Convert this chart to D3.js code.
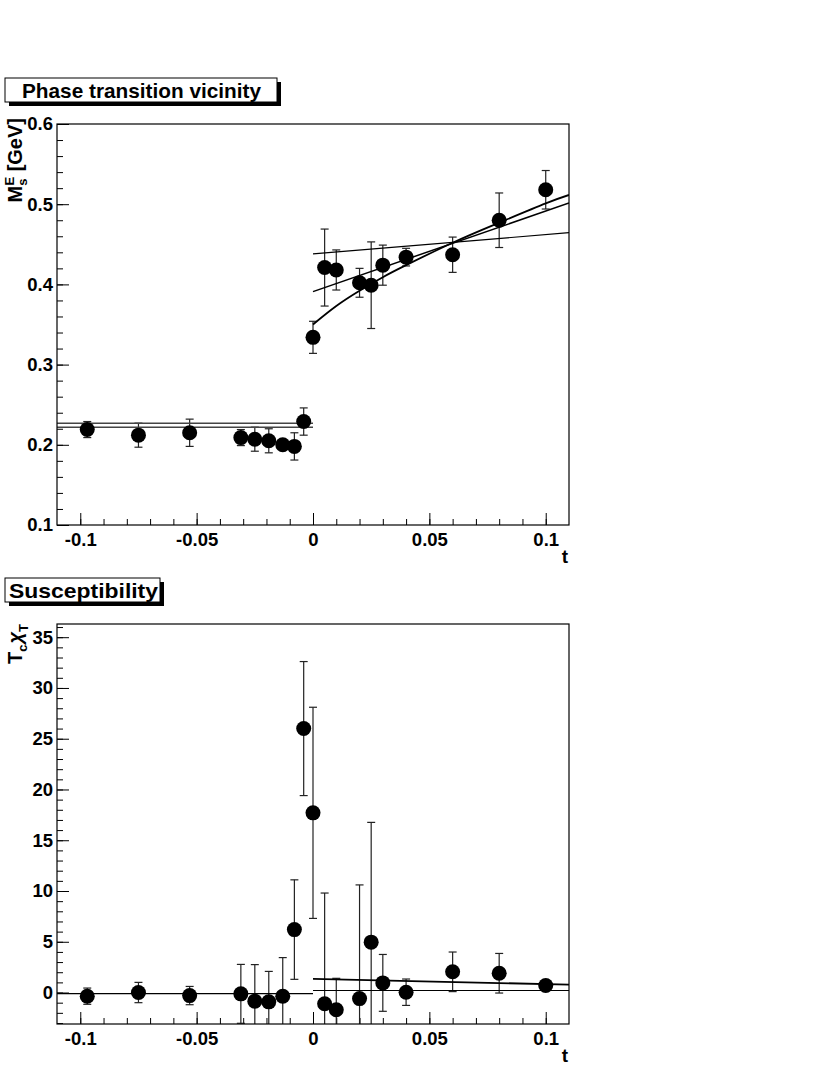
<!DOCTYPE html>
<html>
<head>
<meta charset="utf-8">
<script src="https://cdn.jsdelivr.net/npm/d3@7"></script>
<style>
  body { margin: 0; background: #fff; }
  text { font-family: "Liberation Sans", Arial, Helvetica, sans-serif; font-weight: bold; fill: #000; }
</style>
</head>
<body>
<svg id="chart" width="830" height="1075"></svg>
<script>
// reduced temperature t for every point (same for both panels)
var T_POINTS = [-0.097, -0.075, -0.053, -0.031, -0.025, -0.019, -0.013, -0.008, -0.004,
                0.0, 0.005, 0.010, 0.020, 0.025, 0.030, 0.040, 0.060, 0.080, 0.100];

// top panel: screening mass M_s^E [GeV]
var MASS     = [0.219, 0.212, 0.215, 0.209, 0.207, 0.205, 0.200, 0.198, 0.229,
                0.334, 0.421, 0.418, 0.402, 0.399, 0.424, 0.434, 0.437, 0.480, 0.518];
var MASS_ERR = [0.010, 0.015, 0.017, 0.010, 0.015, 0.015, 0.004, 0.017, 0.017,
                0.020, 0.048, 0.025, 0.018, 0.054, 0.025, 0.011, 0.022, 0.034, 0.024];

// fits drawn over the top panel as [t, value]
var MASS_CONST_A = [[-0.11, 0.2268], [0.0, 0.2268]];
var MASS_CONST_B = [[-0.11, 0.2218], [0.0, 0.2218]];
var MASS_FLAT    = [[0.0, 0.438], [0.11, 0.4645]];
var MASS_LINE    = [[0.0, 0.391], [0.11, 0.5015]];
var MASS_CURVE   = [[0.0, 0.350], [0.01, 0.373], [0.02, 0.392], [0.03, 0.409], [0.04, 0.424],
                    [0.06, 0.452], [0.08, 0.477], [0.10, 0.501], [0.11, 0.5115]];

// bottom panel: susceptibility T_c chi_T
var CHI     = [-0.36, 0.0, -0.3, -0.13, -0.85, -0.92, -0.36, 6.2, 26.0,
               17.7, -1.1, -1.7, -0.6, 4.96, 0.95, 0.03, 2.04, 1.9, 0.69];
var CHI_ERR = [0.8, 1.0, 0.9, 2.9, 3.6, 3.0, 3.8, 4.9, 6.6,
               10.4, 10.9, 3.1, 11.2, 11.8, 2.8, 1.3, 1.95, 1.95, 0.3];

var CHI_LEFT   = [[-0.11, -0.1], [0.0, -0.1]];
var CHI_SLOPE  = [[0.0, 1.35], [0.11, 0.78]];
var CHI_FLAT   = [[0.0, 0.2], [0.11, 0.2]];

// axes
var T_RANGE      = [-0.11, 0.11];
var T_MAJOR      = [-0.1, -0.05, 0, 0.05, 0.1];
var MASS_RANGE   = [0.1, 0.6];
var MASS_MAJOR   = [0.1, 0.2, 0.3, 0.4, 0.5, 0.6];
var CHI_RANGE    = [-3.1, 36.3];
var CHI_MAJOR    = [0, 5, 10, 15, 20, 25, 30, 35];

var LEFT = 57, RIGHT = 569;
var svg = d3.select('#chart');

var x = d3.scaleLinear().domain(T_RANGE).range([LEFT, RIGHT]);

function fmt(d) { return String(+d.toFixed(2)); }

function titleBox(bx, by, bw, bh, label, tx, ty, tlen) {
  svg.append('rect').attr('x', bx + 4).attr('y', by + 4).attr('width', bw).attr('height', bh)
    .attr('fill', '#000');
  svg.append('rect').attr('x', bx).attr('y', by).attr('width', bw).attr('height', bh)
    .attr('fill', '#fff').attr('stroke', '#000').attr('stroke-width', 1);
  svg.append('text').attr('x', tx).attr('y', ty)
    .style('font-size', '21px')
    .attr('textLength', tlen).attr('lengthAdjust', 'spacingAndGlyphs')
    .text(label);
}

function panel(top, bottom, yDomain, yMajor, yMinorStep, vals, errs, lines, id) {
  var y = d3.scaleLinear().domain(yDomain).range([bottom, top]);
  var g = svg.append('g');

  g.append('clipPath').attr('id', id).append('rect')
    .attr('x', LEFT).attr('y', top).attr('width', RIGHT - LEFT).attr('height', bottom - top);

  // minor + major ticks, inward like ROOT
  var xMinor = d3.range(-0.1, 0.1001, 0.01);
  var yMinor = d3.range(Math.ceil(yDomain[0] / yMinorStep) * yMinorStep, yDomain[1], yMinorStep);

  g.append('g').attr('transform', 'translate(0,' + bottom + ')')
    .call(d3.axisBottom(x).tickValues(xMinor).tickSize(-6).tickFormat(''));
  g.append('g').attr('transform', 'translate(0,' + bottom + ')')
    .call(d3.axisBottom(x).tickValues(T_MAJOR).tickSize(-12).tickPadding(8).tickFormat(fmt));
  g.append('g').attr('transform', 'translate(' + LEFT + ',0)')
    .call(d3.axisLeft(y).tickValues(yMinor).tickSize(-6).tickFormat(''));
  g.append('g').attr('transform', 'translate(' + LEFT + ',0)')
    .call(d3.axisLeft(y).tickValues(yMajor).tickSize(-12).tickPadding(4).tickFormat(fmt));

  g.selectAll('.domain').remove();
  g.selectAll('.tick line').attr('stroke', '#000').attr('stroke-width', 1);
  g.selectAll('.tick text').style('font-size', '18.5px').style('font-family', null);

  var plot = g.append('g').attr('clip-path', 'url(#' + id + ')');

  // error bars with caps
  var eb = plot.selectAll('.eb').data(T_POINTS).enter().append('g');
  eb.append('line')
    .attr('x1', d => x(d)).attr('x2', d => x(d))
    .attr('y1', (d, i) => y(vals[i] - errs[i])).attr('y2', (d, i) => y(vals[i] + errs[i]))
    .attr('stroke', '#222').attr('stroke-width', 1.2);
  [-1, 1].forEach(function (s) {
    eb.append('line')
      .attr('x1', d => x(d) - 4).attr('x2', d => x(d) + 4)
      .attr('y1', (d, i) => y(vals[i] + s * errs[i])).attr('y2', (d, i) => y(vals[i] + s * errs[i]))
      .attr('stroke', '#222').attr('stroke-width', 1.2);
  });

  // fit lines
  lines.forEach(function (l) {
    plot.append('path').datum(l.pts)
      .attr('fill', 'none').attr('stroke', l.color).attr('stroke-width', l.w)
      .attr('d', d3.line().x(d => x(d[0])).y(d => y(d[1])).curve(d3.curveNatural));
  });

  plot.selectAll('.pt').data(T_POINTS).enter().append('circle')
    .attr('cx', d => x(d)).attr('cy', (d, i) => y(vals[i]))
    .attr('r', 7.5).attr('fill', '#000');

  g.append('rect').attr('x', LEFT).attr('y', top).attr('width', RIGHT - LEFT).attr('height', bottom - top)
    .attr('fill', 'none').attr('stroke', '#000').attr('stroke-width', 1.2);

  g.append('text').attr('x', RIGHT - 1).attr('y', bottom + 38)
    .attr('text-anchor', 'end').style('font-size', '19px').text('t');
  return y;
}

titleBox(5, 78, 272, 24, 'Phase transition vicinity', 22, 98, 239);
panel(124, 525, MASS_RANGE, MASS_MAJOR, 0.02, MASS, MASS_ERR, [
  { pts: MASS_CONST_A, color: '#444', w: 1.6 },
  { pts: MASS_CONST_B, color: '#444', w: 1.6 },
  { pts: MASS_FLAT, color: '#000', w: 1.2 },
  { pts: MASS_LINE, color: '#000', w: 1.5 },
  { pts: MASS_CURVE, color: '#000', w: 1.8 }
], 'clipTop');

titleBox(5, 578, 155, 24, 'Susceptibility', 9, 598, 149);
panel(624, 1024, CHI_RANGE, CHI_MAJOR, 1, CHI, CHI_ERR, [
  { pts: CHI_LEFT, color: '#000', w: 1.2 },
  { pts: CHI_SLOPE, color: '#000', w: 1.8 },
  { pts: CHI_FLAT, color: '#000', w: 1.2 }
], 'clipBot');

// y titles, rotated, ending at the top of the axis
var t1 = svg.append('text').attr('transform', 'translate(22,118) rotate(-90)')
  .attr('text-anchor', 'end').style('font-size', '20px');
t1.append('tspan').text('M');
t1.append('tspan').attr('dy', 5).style('font-size', '13px').text('s');
t1.append('tspan').attr('dx', -7).attr('dy', -13).style('font-size', '13px').text('E');
t1.append('tspan').attr('dy', 8).text(' [GeV]');

var t2 = svg.append('text').attr('transform', 'translate(22,624) rotate(-90)')
  .attr('text-anchor', 'end').style('font-size', '20px');
t2.append('tspan').text('T');
t2.append('tspan').attr('dy', 5).style('font-size', '13px').text('c');
t2.append('tspan').attr('dy', -5).attr('dx', 1).style('font-style', 'italic').text('\u03c7');
t2.append('tspan').attr('dy', 6).style('font-size', '13px').text('T');
</script>
</body>
</html>
